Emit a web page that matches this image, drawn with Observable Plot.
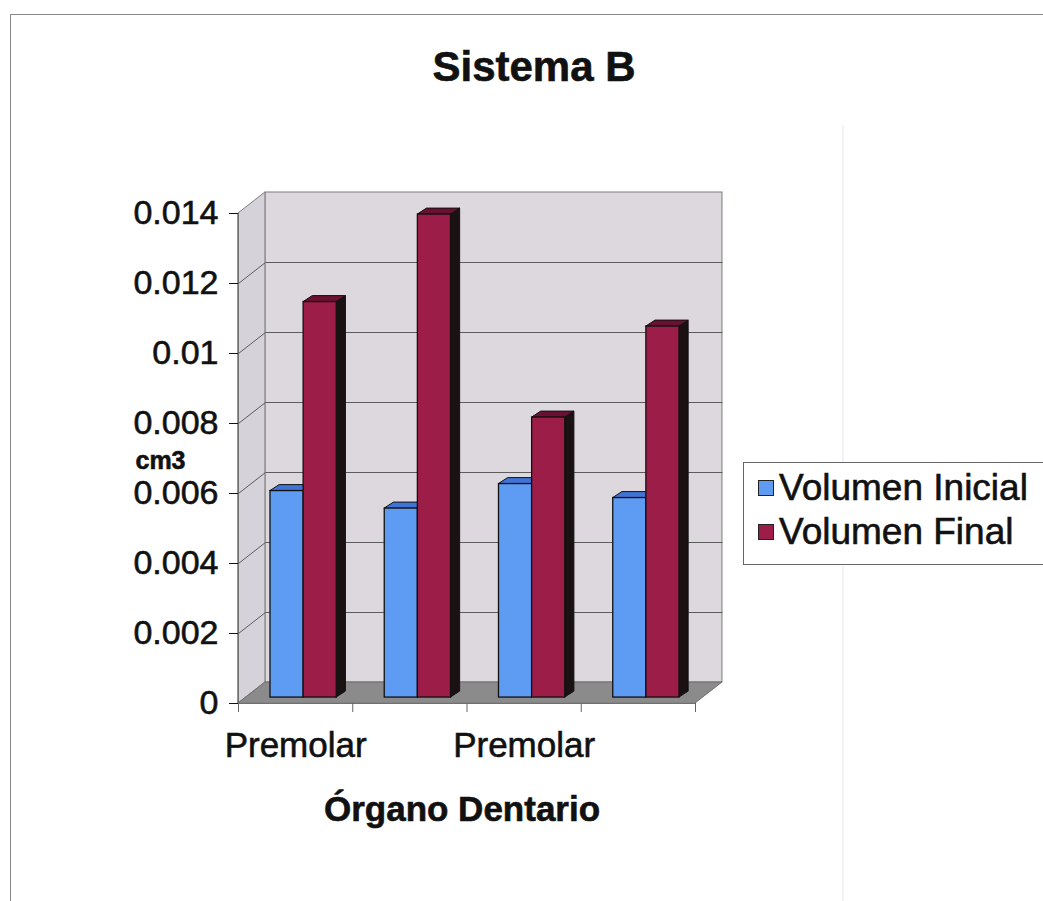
<!DOCTYPE html>
<html>
<head>
<meta charset="utf-8">
<script src="https://cdn.jsdelivr.net/npm/d3@7"></script>
<script src="https://cdn.jsdelivr.net/npm/@observablehq/plot@0.6"></script>
<style>
  body { margin: 0; background: #fff; }
  #wrap { position: relative; width: 1043px; height: 901px; overflow: hidden; font-family: "Liberation Sans", Arial, sans-serif; background: #fff; }
  #wrap svg { position: absolute; left: 0; top: 0; }
  #wrap svg text { stroke: #111; stroke-width: 0.6px; }
  #border { position: absolute; left: 10px; top: 14px; width: 1200px; height: 1000px; border-left: 1px solid #8a8a8a; border-top: 1px solid #8a8a8a; pointer-events: none; }
  #streak { position: absolute; left: 842px; top: 125px; width: 2px; height: 800px; background: #eef4fa; }
  #legend { position: absolute; left: 743px; top: 462px; width: 400px; height: 101px; border: 1px solid #666; background: #fff; }
  .row { position: absolute; left: 14px; display: flex; align-items: center; font-size: 37px; color: #111; white-space: nowrap; -webkit-text-stroke: 0.6px #111; }
  .sw { width: 14px; height: 14px; border: 1px solid #222; margin-right: 5px; }
</style>
</head>
<body>
<div id="wrap"><div id="border"></div><div id="streak"></div></div>
<script>
// ---- data ----
const categories = ["Premolar", "Premolar", "Premolar", "Premolar"];
const series = ["Volumen Inicial", "Volumen Final"];
const volumenInicial = [0.0059, 0.0054, 0.0061, 0.0057];
const volumenFinal = [0.0113, 0.0138, 0.0080, 0.0106];
const yTicks = [0, 0.002, 0.004, 0.006, 0.008, 0.010, 0.012, 0.014];
const yTickLabels = ["0", "0.002", "0.004", "0.006", "0.008", "0.01", "0.012", "0.014"];
const shownCategoryIdx = [0, 2];

// ---- style / 3D geometry (in data units) ----
const FRONT = ["#5e9bf2", "#9c1d47"];
const TOPC = ["#3f73d6", "#6a1030"];
const SIDEC = ["#26488f", "#1a1212"];
const WALL = "#dcd8de", SIDEWALL = "#d5d2d9", FLOOR = "#8b8b8b";
const OX = 0.236, OY = 0.0006;     // wall depth offset
const BX = 0.07, BY = 0.00017;     // bar front plane offset
const DX = 0.08, DY = 0.00017;     // bar depth
const BAR_START = 0.21, BAR_W = 0.29;
const N = categories.length, YMAX = 0.014;

const bars = [];
categories.forEach((c, i) => {
  [volumenInicial, volumenFinal].forEach((vals, s) => {
    const x1 = i + BAR_START + s * BAR_W + BX;
    bars.push({id: i + "-" + s, s, series: series[s], x1, x2: x1 + BAR_W, y1: BY, y2: vals[i] + BY});
  });
});
const sides = bars.flatMap(b => [
  {id: b.id, s: b.s, x: b.x2, lo: b.y1, hi: b.y2},
  {id: b.id, s: b.s, x: b.x2 + DX, lo: b.y1 + DY, hi: b.y2 + DY}
]);
const tops = bars.flatMap(b => [
  {id: b.id, s: b.s, y: b.y2, a: b.x1, b: b.x2},
  {id: b.id, s: b.s, y: b.y2 + DY, a: b.x1 + DX, b: b.x2 + DX}
]);
const wall = [{x1: OX, x2: N + OX, y1: OY, y2: YMAX + OY}];
const leftWall = [{x: 0, lo: 0, hi: YMAX}, {x: OX, lo: OY, hi: YMAX + OY}];
const floor = [{y: 0, a: 0, b: N}, {y: OY, a: OX, b: N + OX}];
const grid = yTicks.filter(v => v > 0 && v < YMAX);
const catTicks = d3.range(N + 1);
const catLabels = shownCategoryIdx.map(i => ({i, label: categories[i]}));

const chart = Plot.plot({
  width: 1043, height: 901,
  marginLeft: 238, marginRight: 348, marginTop: 213, marginBottom: 198,
  style: {fontFamily: "'Liberation Sans', Arial, sans-serif", background: "transparent", color: "#111", overflow: "visible"},
  x: {domain: [0, N], label: null},
  y: {domain: [0, YMAX], label: null},
  color: {domain: series, range: FRONT},
  marks: [
    Plot.rect(wall, {x1: "x1", x2: "x2", y1: "y1", y2: "y2", fill: WALL, stroke: "#7c7c7c"}),
    Plot.area(leftWall, {x1: "x", y1: "lo", y2: "hi", fill: SIDEWALL, stroke: "#7c7c7c"}),
    Plot.link(grid, {x1: () => OX, x2: () => N + OX, y1: d => d + OY, y2: d => d + OY, stroke: "#5c5c5c", strokeWidth: 1}),
    Plot.link(grid, {x1: () => 0, x2: () => OX, y1: d => d, y2: d => d + OY, stroke: "#5c5c5c", strokeWidth: 1}),
    Plot.area(floor, {y1: "y", x1: "a", x2: "b", fill: FLOOR, stroke: "#6e6e6e"}),
    Plot.ruleY([0], {x1: () => 0, x2: () => N, stroke: "#707070"}),
    Plot.ruleX([0], {y1: () => 0, y2: () => YMAX, stroke: "#707070"}),
    // bar sides and tops (behind), then fronts
    ...[0, 1].map(s => Plot.area(sides.filter(d => d.s === s), {x1: "x", y1: "lo", y2: "hi", z: "id", fill: SIDEC[s], stroke: "#111", strokeWidth: 1})),
    ...[0, 1].map(s => Plot.area(tops.filter(d => d.s === s), {y1: "y", x1: "a", x2: "b", z: "id", fill: TOPC[s], stroke: "#111", strokeWidth: 1})),
    Plot.rect(bars, {x1: "x1", x2: "x2", y1: "y1", y2: "y2", fill: "series", stroke: "#111", strokeWidth: 1.3}),
    // axes
    Plot.axisY({ticks: yTicks, tickFormat: d => yTickLabels[yTicks.indexOf(d)], tickSize: 9, tickPadding: 11, fontSize: 34, label: null, color: "#111"}),
    Plot.axisX({ticks: catTicks, tickFormat: () => "", tickSize: 9, label: null, color: "#666"}),
    Plot.text(catLabels, {x: d => d.i + 0.5, y: () => 0, text: "label", dy: 42, fontSize: 35, fill: "#111"}),
    // titles
    Plot.text(["Sistema B"], {text: d => d, frameAnchor: "top", lineAnchor: "middle", dx: 67, dy: -146, fontSize: 42, fontWeight: "bold", fill: "#111"}),
    Plot.text(["Órgano Dentario"], {text: d => d, frameAnchor: "bottom", lineAnchor: "middle", dx: -5, dy: 106, fontSize: 35, fontWeight: "bold", fill: "#111"}),
    Plot.text(["cm3"], {text: d => d, frameAnchor: "left", textAnchor: "middle", lineAnchor: "middle", dx: -78, dy: 2, fontSize: 25, fontWeight: "bold", fill: "#111"})
  ]
});
const wrap = document.getElementById("wrap");
wrap.insertBefore(chart, wrap.firstChild);

// legend (HTML), colours from the Plot color scale
const color = chart.scale("color");
const legend = document.createElement("div");
legend.id = "legend";
series.forEach((name, k) => {
  const row = document.createElement("div");
  row.className = "row";
  row.style.top = (k === 0 ? 4 : 48) + "px";
  const sw = document.createElement("div");
  sw.className = "sw";
  sw.style.background = color.range[color.domain.indexOf(name)];
  const t = document.createElement("span");
  t.textContent = name;
  row.appendChild(sw); row.appendChild(t);
  legend.appendChild(row);
});
wrap.appendChild(legend);
</script>
</body>
</html>
